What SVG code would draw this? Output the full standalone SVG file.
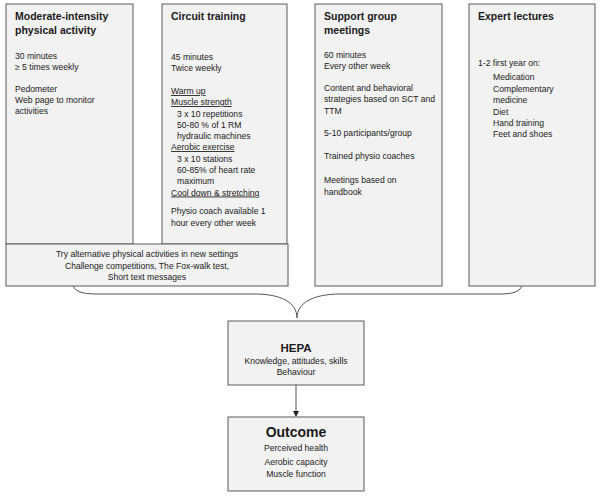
<svg xmlns="http://www.w3.org/2000/svg" width="600" height="500" viewBox="0 0 600 500">
<style>
.box{fill:#f2f2f2;stroke:#5a5a5a;stroke-width:1}
text{font-family:"Liberation Sans",Arial,sans-serif;fill:#1a1a1a}
.t{font-size:10.5px;font-weight:bold}
.b{font-size:8.6px}
.u{text-decoration:underline}
.c{text-anchor:middle}
.con{fill:none;stroke:#555;stroke-width:1}
</style>
<defs>
<marker id="ah" markerWidth="6" markerHeight="6" refX="5" refY="3" orient="auto" markerUnits="userSpaceOnUse">
<path d="M0,0 L6,3 L0,6 Z" fill="#222"/>
</marker>
</defs>
<rect width="600" height="500" fill="#fff"/>
<g id="n1">
<rect class="box" x="6" y="4" width="127" height="240"/>
<text class="t" x="15" y="20">Moderate-intensity</text>
<text class="t" x="15" y="34">physical activity</text>
<text class="b" x="15" y="59">30 minutes</text>
<text class="b" x="15" y="70">≥ 5 times weekly</text>
<text class="b" x="15" y="92">Pedometer</text>
<text class="b" x="15" y="103">Web page to monitor</text>
<text class="b" x="15" y="114">activities</text>
</g>
<g id="n2">
<rect class="box" x="162" y="4" width="125" height="240"/>
<text class="t" x="171" y="20">Circuit training</text>
<text class="b" x="171" y="60">45 minutes</text>
<text class="b" x="171" y="71.3">Twice weekly</text>
<text class="b u" x="171" y="94">Warm up</text>
<text class="b u" x="171" y="105">Muscle strength</text>
<text class="b" x="177" y="116.5">3 x 10 repetitions</text>
<text class="b" x="177" y="127.5">50-80 % of 1 RM</text>
<text class="b" x="177" y="138.5">hydraulic machines</text>
<text class="b u" x="171" y="150">Aerobic exercise</text>
<text class="b" x="177" y="161.5">3 x 10 stations</text>
<text class="b" x="177" y="172.5">60-85% of heart rate</text>
<text class="b" x="177" y="184">maximum</text>
<text class="b u" x="171" y="195.5">Cool down &amp; stretching</text>
<text class="b" x="171" y="214">Physio coach available 1</text>
<text class="b" x="171" y="225.5">hour every other week</text>
</g>
<g id="n3">
<rect class="box" x="315" y="4" width="127" height="282"/>
<text class="t" x="324" y="20">Support group</text>
<text class="t" x="324" y="34">meetings</text>
<text class="b" x="324" y="58">60 minutes</text>
<text class="b" x="324" y="69">Every other week</text>
<text class="b" x="324" y="91">Content and behavioral</text>
<text class="b" x="324" y="102">strategies based on SCT and</text>
<text class="b" x="324" y="114">TTM</text>
<text class="b" x="324" y="136">5-10 participants/group</text>
<text class="b" x="324" y="159">Trained physio coaches</text>
<text class="b" x="324" y="183">Meetings based on</text>
<text class="b" x="324" y="195">handbook</text>
</g>
<g id="n4">
<rect class="box" x="469" y="4" width="126" height="282"/>
<text class="t" x="478" y="20">Expert lectures</text>
<text class="b" x="478" y="66">1-2 first year on:</text>
<text class="b" x="493" y="80">Medication</text>
<text class="b" x="493" y="92">Complementary</text>
<text class="b" x="493" y="103">medicine</text>
<text class="b" x="493" y="115">Diet</text>
<text class="b" x="493" y="126">Hand training</text>
<text class="b" x="493" y="137">Feet and shoes</text>
</g>
<g id="n5">
<rect class="box" x="6" y="244" width="282" height="42"/>
<text class="b c" x="147" y="257">Try alternative physical activities in new settings</text>
<text class="b c" x="147" y="268.5">Challenge competitions, The Fox-walk test,</text>
<text class="b c" x="147" y="280">Short text messages</text>
</g>
<g id="hepa">
<rect class="box" x="228" y="321" width="136" height="64"/>
<text class="c" x="296" y="352" style="font-size:11.5px;font-weight:bold">HEPA</text>
<text class="b c" x="296" y="364">Knowledge, attitudes, skills</text>
<text class="b c" x="296" y="375">Behaviour</text>
</g>
<g id="outcome">
<rect class="box" x="228" y="417" width="136" height="74"/>
<text class="c" x="296" y="437" style="font-size:14px;font-weight:bold">Outcome</text>
<text class="b c" x="296" y="451">Perceived health</text>
<text class="b c" x="296" y="465">Aerobic capacity</text>
<text class="b c" x="296" y="477">Muscle function</text>
</g>
<g id="connectors">
<path class="con" d="M73,286 Q76,294 95,294 L255,294 C280,294 297,302 297,318"/>
<path class="con" d="M522,286 Q519,294 502,294 L340,294 C315,294 297,302 297,318"/>
<line class="con" x1="296" y1="385" x2="296" y2="416" stroke="#333" marker-end="url(#ah)"/>
</g>
</svg>
